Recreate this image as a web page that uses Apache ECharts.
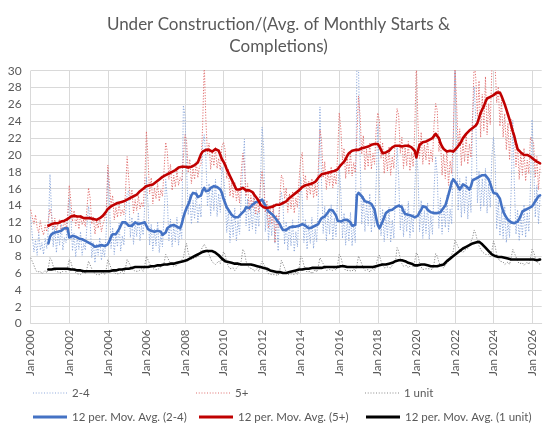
<!DOCTYPE html>
<html>
<head>
<meta charset="utf-8">
<script src="https://cdn.jsdelivr.net/npm/echarts@6/dist/echarts.min.js"></script>
<style>
html,body{margin:0;padding:0;background:#fff;}
#chart{width:557px;height:433px;}
</style>
</head>
<body>
<div id="chart"></div>
<script>
// ---- Tick labels / categories ----
const MONTH_NAMES = ['Jan','Feb','Mar','Apr','May','Jun','Jul','Aug','Sep','Oct','Nov','Dec'];
const FIRST_YEAR = 2000;
const LAST_YEAR = 2026;
const LAST_MONTH_INDEX = 6; // Jul 2026 is the last category
const Y_TICKS = [0,2,4,6,8,10,12,14,16,18,20,22,24,26,28,30];

// ---- Series names ----
const NAME_24 = '2-4';
const NAME_5 = '5+';
const NAME_1 = '1 unit';
const NAME_MA_24 = '12 per. Mov. Avg. (2-4)';
const NAME_MA_5 = '12 per. Mov. Avg. (5+)';
const NAME_MA_1 = '12 per. Mov. Avg. (1 unit)';

// ---- Monthly values, Jan 2000 .. Jun 2026 (one row per year) ----
const raw24 = [
12.6,10.4,8.5,9.9,8.1,10.8,8.7,9.6,8.2,10.1,8.9,11.2,
17.7,13.2,9.1,11.6,8.4,10.9,9.3,11.8,8.7,10.2,9.6,12.4,
14.8,12.9,8.6,10.7,7.9,10.3,8.8,10.9,8.1,9.5,8.7,11.6,
13.9,12.1,7.8,9.6,7.2,9.4,8.1,10.2,7.5,8.9,7.9,10.8,
18.2,14.6,8.9,11.4,8.2,10.7,9.1,11.9,8.6,10.4,9.3,12.7,
15.4,15.8,10.2,12.6,9.4,12.1,10.3,13.2,9.8,11.6,10.5,14.1,
17.4,14.2,9.3,11.8,8.6,11.2,9.2,12.1,8.4,10.6,9.1,12.9,
17.1,14.8,9.8,12.4,9.1,11.6,9.7,12.6,9.3,11.2,10.1,25.9,
24.7,18.6,12.9,15.3,11.8,14.6,12.4,15.8,11.9,14.2,12.6,21.3,
22.4,19.8,13.9,16.6,12.8,16.2,13.4,17.1,12.7,15.4,13.2,18.6,
17.6,15.3,10.8,13.4,9.6,12.9,10.3,13.7,9.8,12.2,10.6,15.1,
18.4,21.9,11.6,14.8,10.9,13.8,11.2,15.1,10.7,13.3,11.5,16.9,
23.3,20.8,10.9,13.9,9.8,12.7,10.4,13.6,9.5,12.4,8.6,14.2,
15.6,14.2,9.4,12.1,8.7,11.6,9.2,12.3,8.5,10.9,9.1,13.4,
17.3,14.9,9.6,12.4,8.8,11.7,9.5,12.6,8.9,11.2,9.7,14.6,
25.7,16.8,10.7,13.9,9.8,13.2,10.6,14.1,9.9,12.5,10.3,15.2,
18.9,15.6,10.1,13.1,9.3,12.4,9.8,13.2,9.2,11.8,9.6,31.0,
30.5,19.6,11.8,15.1,10.9,14.3,11.6,15.4,10.8,13.9,11.4,16.8,
23.6,16.2,10.4,13.6,9.7,12.9,10.2,13.8,9.6,12.3,10.1,15.6,
21.2,17.4,11.1,14.2,10.3,13.6,10.9,14.5,10.2,12.9,10.8,16.1,
20.4,18.1,10.9,14.6,10.1,13.4,10.7,14.3,10.0,12.8,10.6,15.8,
19.8,17.6,11.3,14.9,10.6,14.1,11.4,15.2,10.9,13.6,11.8,21.4,
30.5,22.6,13.4,17.2,12.6,16.4,13.1,17.5,12.4,15.8,13.2,24.3,
28.1,24.2,14.3,18.1,13.4,17.2,13.9,18.4,13.1,16.6,13.8,19.9,
22.1,19.4,11.2,14.6,10.4,13.3,10.1,13.9,9.6,12.2,10.2,15.8,
24.1,16.3,10.6,13.5,9.8,12.9,10.4,14.1,10.2,13.2,10.9,16.2,
24.2,19.1,12.6,16.4,11.8,15.1
];
const raw5 = [
13.5,12.6,11.8,12.9,11.4,10.8,12.2,11.1,10.5,11.7,10.9,12.3,
13.6,12.8,11.2,12.5,10.9,11.8,12.4,10.8,11.5,12.2,11.0,12.9,
16.4,14.5,12.1,13.4,11.6,12.8,11.2,12.9,11.7,12.3,11.5,13.6,
16.1,14.9,11.8,12.7,10.6,12.2,11.3,12.5,10.9,11.8,12.4,13.2,
18.8,16.5,14.1,15.2,12.3,13.8,12.6,14.3,12.8,13.5,12.9,15.6,
19.8,17.2,14.6,15.9,13.1,14.7,13.4,15.2,13.6,14.4,13.8,16.9,
22.8,19.6,15.4,17.3,14.2,16.1,14.8,16.6,14.5,15.9,15.1,18.2,
21.5,20.4,17.1,18.9,15.8,17.6,16.2,18.1,16.4,17.3,16.9,19.6,
22.4,21.7,17.9,19.5,16.6,18.4,17.1,19.2,17.3,18.6,18.9,23.5,
31.0,24.2,20.1,21.4,18.3,20.2,18.7,20.9,18.4,19.6,18.2,21.1,
21.5,20.6,17.2,18.4,15.1,16.7,14.9,16.8,14.6,15.8,14.3,17.9,
20.2,18.9,15.1,16.6,13.4,15.2,13.7,15.6,12.9,14.8,13.1,16.4,
18.1,16.4,13.2,14.6,11.3,13.7,11.8,14.2,9.6,12.9,11.4,14.8,
17.6,17.2,14.8,16.1,13.2,15.4,13.6,15.7,13.1,14.9,13.8,17.0,
19.5,20.3,16.2,17.6,14.7,16.9,15.3,17.2,14.9,16.5,15.1,18.4,
23.0,21.8,17.3,19.2,15.9,18.1,16.4,18.6,16.1,17.7,16.5,19.9,
25.0,23.1,19.4,20.8,17.2,19.6,17.8,20.3,17.5,19.1,17.9,22.4,
27.0,24.6,20.1,22.3,18.2,20.7,18.6,21.4,18.3,20.2,18.9,23.1,
25.0,24.1,19.6,21.5,17.8,20.3,18.1,21.0,17.6,19.8,18.4,22.6,
25.5,24.7,20.2,22.1,18.4,20.9,18.7,21.6,18.1,20.3,18.6,22.9,
31.0,23.8,19.6,22.7,18.9,21.2,19.4,21.8,18.8,20.6,19.2,23.6,
26.1,25.3,20.4,21.9,17.6,20.1,17.2,20.6,16.4,19.3,17.8,22.5,
31.0,26.4,20.9,23.1,18.7,21.6,19.2,22.4,18.9,21.3,19.7,24.8,
31.0,29.1,24.6,28.8,22.1,27.2,22.9,29.3,22.4,26.1,23.6,30.4,
31.0,30.6,26.2,28.1,23.4,26.5,22.1,24.9,20.6,23.8,19.4,24.2,
23.1,22.4,18.6,21.2,17.1,20.3,17.6,20.8,16.9,19.4,17.8,22.1,
22.2,21.4,17.3,19.8,15.9,18.6
];
const raw1 = [
7.8,7.6,6.9,6.4,6.1,6.0,6.2,5.9,6.1,6.3,6.0,6.6,
7.8,7.5,6.8,6.3,6.2,6.1,6.3,6.0,6.2,6.4,6.1,6.7,
7.6,7.3,6.6,6.2,6.0,5.9,6.1,5.8,6.0,6.2,5.9,6.5,
7.4,7.2,6.5,6.1,5.9,5.8,6.0,5.8,5.9,6.1,5.8,6.4,
7.6,7.4,6.6,6.2,6.0,5.9,6.1,5.9,6.0,6.2,5.9,6.6,
7.6,7.7,6.9,6.5,6.3,6.2,6.4,6.2,6.3,6.5,6.2,6.9,
8.0,7.8,7.1,6.7,6.5,6.4,6.6,6.4,6.5,6.7,6.5,7.2,
8.2,8.1,7.5,7.1,6.9,6.8,7.0,6.9,7.0,7.3,7.1,7.8,
8.8,9.5,8.4,7.9,7.6,7.5,7.8,7.7,7.9,8.3,8.4,9.1,
9.4,9.3,8.7,8.2,7.7,7.3,7.2,7.0,7.2,7.4,7.1,7.9,
8.5,8.2,7.3,6.8,6.5,6.4,6.6,6.3,6.5,6.8,6.6,7.4,
8.8,8.5,7.4,6.9,6.6,6.4,6.5,6.2,6.3,6.5,6.2,6.9,
7.4,7.6,6.7,6.2,5.9,5.7,5.8,5.6,5.8,6.0,5.7,6.3,
7.5,7.3,6.6,6.1,5.8,5.7,5.9,5.7,5.8,6.1,5.8,6.5,
8.0,7.7,6.9,6.4,6.1,6.0,6.2,5.9,6.1,6.4,6.1,6.8,
7.8,7.9,7.1,6.6,6.3,6.2,6.4,6.2,6.3,6.6,6.3,7.0,
8.2,7.9,7.1,6.6,6.3,6.1,6.3,6.1,6.2,6.5,6.2,6.9,
8.0,7.8,7.1,6.6,6.3,6.2,6.4,6.1,6.3,6.6,6.3,7.0,
7.8,8.1,7.4,6.9,6.6,6.5,6.7,6.5,6.6,6.9,6.7,7.4,
9.0,8.6,7.7,7.1,6.8,6.7,6.9,6.6,6.8,7.0,6.7,7.4,
8.4,8.1,7.2,6.7,6.4,6.3,6.5,6.3,6.5,6.7,6.4,7.1,
8.3,8.0,7.3,6.9,6.7,6.6,6.9,7.0,7.4,7.8,7.9,8.6,
9.9,9.7,9.1,8.7,8.5,8.4,8.7,8.6,8.9,9.3,9.5,10.2,
11.1,10.6,9.8,9.2,8.8,8.5,8.5,8.2,8.1,8.2,7.9,8.6,
9.8,9.2,8.2,7.7,7.4,7.2,7.3,7.0,7.1,7.3,7.0,7.8,
8.8,8.6,7.9,7.4,7.1,7.0,7.2,6.9,7.1,7.3,7.0,7.7,
8.8,8.5,7.8,7.3,7.1,7.0
];

// ---- 12-month moving averages (start Dec 2000) ----
const ma24 = [
null,null,null,null,null,null,null,null,null,null,null,9.5,
10.3,10.6,10.7,10.8,10.8,10.9,10.9,11.0,11.2,11.3,11.2,11.3,
10.2,10.2,10.4,10.5,10.3,10.2,10.1,10.0,10.0,9.9,9.8,9.7,
9.6,9.5,9.4,9.3,9.1,9.0,9.2,9.4,9.3,9.3,9.2,9.3,
9.4,9.8,10.3,10.6,10.7,10.6,10.9,11.2,11.6,12.0,12.1,12.0,
11.8,11.6,11.5,11.6,11.8,12.0,11.9,11.8,11.9,11.9,11.9,12.0,
11.6,11.2,11.0,11.0,11.1,10.9,10.8,11.0,11.1,10.9,10.5,10.4,
10.8,11.3,11.5,11.6,11.6,11.7,11.6,11.5,11.4,11.3,11.8,12.6,
13.2,13.7,14.1,14.6,15.2,15.5,15.7,15.4,15.0,14.8,15.2,15.8,
16.1,15.7,15.5,15.8,16.1,16.2,16.3,16.3,16.2,16.1,15.9,15.5,
14.8,14.3,13.8,13.5,13.2,12.9,12.7,12.6,12.5,12.6,12.8,13.0,
13.1,13.4,13.8,13.9,13.7,13.9,14.1,14.3,14.4,14.4,14.5,14.5,
14.7,14.9,14.0,13.6,13.3,13.1,13.0,12.9,12.6,12.3,12.1,11.8,
11.4,11.1,10.9,11.1,11.3,11.4,11.4,11.5,11.5,11.5,11.6,11.6,
11.7,11.8,11.8,11.6,11.4,11.3,11.3,11.4,11.5,11.6,11.7,11.8,
12.2,12.5,12.6,12.7,12.9,13.2,13.5,13.5,13.4,13.3,12.8,12.2,
12.0,12.1,12.2,12.3,12.4,12.3,12.3,12.0,11.6,11.6,11.7,15.2,
15.5,15.6,15.1,14.8,14.5,14.3,14.4,14.4,14.2,14.1,13.5,12.5,
11.7,11.3,11.7,12.1,12.6,13.1,13.3,13.4,13.4,13.5,13.6,13.8,
13.9,14.0,14.1,13.8,13.3,13.0,12.9,12.9,12.9,12.8,12.7,12.6,
12.5,12.8,13.2,13.5,13.9,14.1,13.8,13.5,13.3,13.2,13.1,13.1,
13.1,13.1,13.0,13.2,13.5,13.7,14.0,14.6,15.3,16.0,16.8,17.1,
16.9,16.6,16.2,15.9,16.1,16.5,16.4,16.3,16.2,15.9,16.3,17.0,
17.1,17.2,17.3,17.4,17.5,17.6,17.7,17.6,17.4,17.1,16.6,16.0,
15.5,15.5,15.4,15.3,14.8,14.0,13.3,12.9,12.6,12.3,12.1,12.0,
11.9,11.9,12.0,12.1,12.4,12.8,13.3,13.4,13.5,13.6,13.7,13.7,
13.9,14.2,14.5,14.8,15.1,15.2
];
const ma5 = [
null,null,null,null,null,null,null,null,null,null,null,11.6,
11.7,11.8,11.8,11.9,12.0,11.9,12.0,12.1,12.2,12.2,12.3,12.4,
12.5,12.7,12.8,12.8,12.7,12.7,12.6,12.7,12.6,12.5,12.6,12.5,
12.5,12.5,12.4,12.4,12.3,12.3,12.4,12.5,12.6,12.8,13.0,13.3,
13.6,13.8,13.9,14.0,14.1,14.2,14.3,14.3,14.4,14.4,14.5,14.6,
14.7,14.8,14.9,15.0,15.1,15.2,15.3,15.5,15.7,15.9,16.0,16.2,
16.3,16.3,16.4,16.5,16.5,16.6,16.8,17.0,17.1,17.3,17.4,17.5,
17.6,17.7,17.8,17.9,18.0,18.1,18.2,18.4,18.5,18.6,18.6,18.6,
18.6,18.5,18.5,18.4,18.6,18.7,18.8,18.9,19.1,19.6,20.1,20.4,
20.5,20.6,20.6,20.6,20.5,20.4,20.5,20.7,20.8,20.5,20.0,19.5,
19.2,18.8,18.3,17.9,17.5,17.1,16.7,16.3,15.9,15.8,15.9,16.0,
16.1,16.2,15.8,15.6,15.8,15.9,15.6,15.3,15.1,14.8,14.5,14.1,
13.9,13.8,13.8,13.7,13.7,13.8,13.9,13.9,14.0,14.1,14.0,14.1,
14.2,14.3,14.4,14.5,14.7,14.9,15.0,15.2,15.4,15.5,15.7,15.8,
16.0,16.2,16.4,16.4,16.5,16.5,16.6,16.6,16.7,16.8,17.0,17.3,
17.5,17.7,17.7,17.8,17.8,17.9,17.9,18.0,18.0,18.1,18.2,18.3,
18.5,18.8,19.0,19.2,19.5,19.9,20.2,20.4,20.5,20.5,20.6,20.6,
20.6,20.7,20.8,20.8,20.9,21.0,21.0,21.1,21.2,21.2,21.3,21.3,
21.3,21.0,20.6,20.2,20.1,20.3,20.5,20.5,20.7,20.9,21.0,21.1,
21.1,21.1,21.1,21.0,21.1,21.1,21.2,21.1,21.0,20.9,20.8,20.5,
19.7,20.5,21.2,21.4,21.5,21.5,21.6,21.7,21.8,21.9,22.0,22.2,
22.5,22.6,22.0,21.4,21.0,20.7,20.5,20.4,20.5,20.5,20.4,20.4,
20.6,20.8,21.0,21.3,21.6,22.0,22.2,22.5,22.7,22.9,23.0,23.2,
23.3,23.5,23.8,24.4,25.0,25.4,25.8,26.3,26.7,26.8,26.9,27.0,
27.1,27.3,27.4,27.6,27.4,27.0,26.5,26.0,25.4,24.8,24.2,23.5,
22.8,22.2,21.4,20.7,20.5,20.3,20.1,20.0,20.0,20.0,19.9,19.8,
19.6,19.5,19.4,19.2,19.0,19.0
];
const ma1 = [
null,null,null,null,null,null,null,null,null,null,null,6.4,
6.4,6.4,6.5,6.5,6.5,6.5,6.5,6.5,6.5,6.5,6.5,6.5,
6.4,6.4,6.4,6.4,6.3,6.3,6.3,6.3,6.2,6.2,6.2,6.2,
6.2,6.2,6.2,6.2,6.2,6.2,6.2,6.2,6.2,6.2,6.2,6.2,
6.2,6.2,6.2,6.3,6.3,6.3,6.3,6.4,6.4,6.4,6.4,6.5,
6.5,6.5,6.6,6.6,6.6,6.7,6.7,6.7,6.7,6.7,6.7,6.7,
6.7,6.7,6.8,6.8,6.8,6.8,6.8,6.9,6.9,6.9,6.9,7.0,
7.0,7.0,7.0,7.1,7.1,7.1,7.2,7.2,7.3,7.3,7.4,7.4,
7.5,7.5,7.6,7.7,7.8,7.9,8.0,8.1,8.2,8.3,8.4,8.5,
8.6,8.6,8.6,8.6,8.6,8.6,8.5,8.4,8.3,8.1,7.9,7.7,
7.5,7.4,7.3,7.3,7.2,7.2,7.2,7.1,7.1,7.1,7.1,7.0,
7.0,7.0,7.0,7.0,7.0,7.0,7.0,6.9,6.9,6.8,6.8,6.7,
6.7,6.6,6.5,6.5,6.4,6.3,6.3,6.2,6.2,6.1,6.1,6.1,
6.0,6.0,6.0,6.0,6.0,6.1,6.1,6.2,6.2,6.3,6.3,6.4,
6.4,6.4,6.5,6.5,6.5,6.5,6.5,6.6,6.6,6.6,6.6,6.6,
6.6,6.6,6.7,6.7,6.7,6.7,6.7,6.7,6.7,6.7,6.7,6.7,
6.8,6.8,6.8,6.8,6.8,6.7,6.7,6.7,6.7,6.7,6.7,6.7,
6.7,6.7,6.7,6.7,6.7,6.7,6.7,6.7,6.7,6.7,6.8,6.8,
6.8,6.9,6.9,7.0,7.0,7.0,7.1,7.1,7.2,7.2,7.3,7.4,
7.4,7.5,7.5,7.5,7.5,7.4,7.3,7.2,7.1,7.1,7.0,6.9,
6.9,6.9,6.9,7.0,7.0,7.0,7.0,6.9,6.9,6.8,6.8,6.8,
6.8,6.8,6.8,6.9,6.9,7.0,7.2,7.4,7.6,7.7,7.9,8.0,
8.1,8.3,8.4,8.6,8.7,8.9,9.0,9.1,9.2,9.3,9.4,9.5,
9.6,9.6,9.7,9.7,9.6,9.4,9.2,9.0,8.8,8.6,8.4,8.2,
8.1,8.0,8.0,7.9,7.9,7.9,7.8,7.8,7.7,7.7,7.7,7.6,
7.6,7.6,7.6,7.6,7.6,7.6,7.6,7.6,7.6,7.6,7.6,7.6,
7.6,7.6,7.5,7.5,7.6,7.6
];

// ---- Build categories ----
const categories = [];
for (let y = FIRST_YEAR; y <= LAST_YEAR; y++) {
  for (let m = 0; m < 12; m++) {
    if (y === LAST_YEAR && m > LAST_MONTH_INDEX) break;
    categories.push(MONTH_NAMES[m] + ' ' + y);
  }
}

const FONT = 'Lato, "Open Sans", sans-serif';
const TXT = '#595959';
const GRIDC = '#d9d9d9';

// dotted legend icon path (13 small squares across a 34x1 box)
let DOT_PATH = 'path://';
for (let i = 0; i < 13; i++) { DOT_PATH += 'M' + (i * 2.75) + ' 0h1v1h-1z'; }

function rawSeries(name, data, color) {
  return {
    name, type: 'line', data, symbol: 'none', showSymbol: false,
    lineStyle: { color, width: 1, type: [1.2, 1.6] },
    itemStyle: { color },
    z: 2, animation: false, silent: true
  };
}
function maSeries(name, data, color) {
  return {
    name, type: 'line', data, symbol: 'none', showSymbol: false,
    lineStyle: { color, width: 2.6, cap: 'round', join: 'round' },
    itemStyle: { color },
    z: 3, animation: false, silent: true
  };
}
function legendAt(name, left, top, dotted) {
  return {
    data: [{ name, icon: dotted ? DOT_PATH : 'rect' }],
    left, top, padding: 0, itemWidth: 34, itemHeight: dotted ? 1 : 3,
    itemGap: 0, selectedMode: false, symbolKeepAspect: false,
    textStyle: { fontFamily: FONT, fontSize: 11.5, color: TXT, padding: [0,0,0,0] }
  };
}

const chart = echarts.init(document.getElementById('chart'), null, { renderer: 'canvas' });
chart.setOption({
  backgroundColor: '#ffffff',
  animation: false,
  title: {
    text: 'Under Construction/(Avg. of Monthly Starts &\nCompletions)',
    left: 'center', top: 9,
    textStyle: { fontFamily: FONT, fontSize: 17, fontWeight: 'normal', color: TXT, lineHeight: 22 }
  },
  legend: [
    legendAt(NAME_24, 33, 387, true),
    legendAt(NAME_5, 196, 387, true),
    legendAt(NAME_1, 365, 387, true),
    legendAt(NAME_MA_24, 33, 411, false),
    legendAt(NAME_MA_5, 199, 411, false),
    legendAt(NAME_MA_1, 366, 411, false)
  ],
  grid: { left: 30.7, right: 15.3, top: 70.7, bottom: 109.5, containLabel: false },
  xAxis: {
    type: 'category', data: categories, boundaryGap: false,
    axisLine: { show: true, lineStyle: { color: GRIDC } },
    axisTick: { show: false },
    axisLabel: { interval: 23, rotate: 90, margin: 6, fontFamily: FONT, fontSize: 11.5, color: TXT },
    splitLine: { show: true, interval: 23, lineStyle: { color: GRIDC, width: 1 } }
  },
  yAxis: {
    type: 'value', min: Y_TICKS[0], max: Y_TICKS[Y_TICKS.length - 1], interval: Y_TICKS[1] - Y_TICKS[0],
    axisLine: { show: false }, axisTick: { show: false },
    axisLabel: { margin: 9, fontFamily: FONT, fontSize: 12, color: TXT },
    splitLine: { show: true, lineStyle: { color: GRIDC, width: 1 } }
  },
  series: [
    rawSeries(NAME_24, raw24, '#8faadc'),
    rawSeries(NAME_5, raw5, '#e07070'),
    rawSeries(NAME_1, raw1, '#8c8c8c'),
    maSeries(NAME_MA_24, ma24, '#4472c4'),
    maSeries(NAME_MA_5, ma5, '#c00000'),
    maSeries(NAME_MA_1, ma1, '#000000')
  ]
});
</script>
</body>
</html>
